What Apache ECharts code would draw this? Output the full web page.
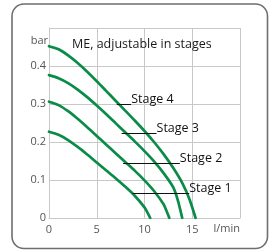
<!DOCTYPE html>
<html>
<head>
<meta charset="utf-8">
<script src="https://cdn.jsdelivr.net/npm/echarts@6/dist/echarts.min.js"></script>
<style>
html,body{margin:0;padding:0;background:#fff;}
#c{width:273px;height:252px;}
</style>
</head>
<body>
<div id="c"></div>
<script>
// ---- data ----
const title = 'ME, adjustable in stages';
const xTicks = [0, 5, 10, 15];
const yTicks = [0, 0.1, 0.2, 0.3, 0.4];
const stageNames = ['Stage 1', 'Stage 2', 'Stage 3', 'Stage 4'];

const stage1Flow = [0, 1, 2, 3, 4, 5, 6, 7, 8, 9, 10, 10.3, 10.6];
const stage1Bar  = [0.227, 0.219, 0.205, 0.187, 0.167, 0.146, 0.125, 0.104, 0.082, 0.058, 0.028, 0.015, 0];

const stage2Flow = [0, 1, 2, 3, 4, 5, 6, 7, 8, 9, 10, 11, 12, 12.3, 12.6];
const stage2Bar  = [0.306, 0.297, 0.281, 0.261, 0.239, 0.216, 0.193, 0.170, 0.147, 0.124, 0.099, 0.071, 0.036, 0.019, 0];

const stage3Flow = [0, 1, 2, 3, 4, 5, 6, 7, 8, 9, 10, 11, 12, 13, 13.5, 13.95];
const stage3Bar  = [0.376, 0.368, 0.355, 0.338, 0.318, 0.296, 0.273, 0.249, 0.225, 0.201, 0.176, 0.149, 0.118, 0.081, 0.046, 0];

const stage4Flow = [0, 1, 2, 3, 4, 5, 6, 7, 8, 9, 10, 11, 12, 13, 14, 14.7, 15.35];
const stage4Bar  = [0.452, 0.444, 0.428, 0.408, 0.385, 0.360, 0.334, 0.308, 0.282, 0.256, 0.229, 0.200, 0.168, 0.132, 0.090, 0.050, 0];

// leader lines for the stage labels (data units)
const leaderY     = [0.066, 0.144, 0.223, 0.300];
const leaderFromX = [8.75, 7.76, 7.6, 7.1];
const leaderToX   = [14.68, 13.7, 11.26, 8.6];

const flows = [stage1Flow, stage2Flow, stage3Flow, stage4Flow];
const bars = [stage1Bar, stage2Bar, stage3Bar, stage4Bar];

const green = '#0a8c48';
const font = 'Open Sans';

const series = stageNames.map((name, i) => ({
  type: 'line',
  name: name,
  data: flows[i].map((x, k) => [x, bars[i][k]]),
  smooth: 0.25,
  showSymbol: false,
  silent: true,
  lineStyle: { color: green, width: 2.7, cap: 'round', join: 'round' },
  z: 3,
  markLine: {
    silent: true,
    symbol: ['none', 'none'],
    lineStyle: { color: '#111', width: 1, type: 'solid' },
    label: {
      show: true,
      position: 'end',
      formatter: name,
      distance: 0,
      color: '#111',
      fontFamily: font,
      fontSize: 12.5,
      verticalAlign: 'bottom',
      padding: [0, 0, -2, 0]
    },
    data: [[{ coord: [leaderFromX[i], leaderY[i]] }, { coord: [leaderToX[i], leaderY[i]] }]],
    animation: false
  }
}));

const chart = echarts.init(document.getElementById('c'), null, { renderer: 'canvas' });
chart.setOption({
  animation: false,
  backgroundColor: '#fff',
  title: {
    text: title,
    left: 67, top: 33,
    textStyle: { fontFamily: font, fontSize: 12.5, fontWeight: 'normal', color: '#1a1a1a' }
  },
  grid: { left: 49, right: 33, top: 28, bottom: 34 },
  xAxis: {
    type: 'value', min: 0, max: 20, interval: 5,
    name: 'l/min', nameLocation: 'end', nameGap: 0,
    nameTextStyle: { align: 'right', verticalAlign: 'top', padding: [5, 0, 0, 0], fontFamily: font, fontSize: 11, color: '#555' },
    axisLine: { show: true, lineStyle: { color: '#c8c8c8', width: 1 } },
    axisTick: { show: false },
    splitLine: { show: true, lineStyle: { color: '#c8c8c8', width: 1 } },
    axisLabel: {
      margin: 6, color: '#555', fontFamily: font, fontSize: 11,
      formatter: v => (xTicks.indexOf(v) >= 0 ? String(v) : '')
    }
  },
  yAxis: {
    type: 'value', min: 0, max: 0.5, interval: 0.1,
    name: 'bar', nameLocation: 'end', nameGap: -13,
    nameTextStyle: { align: 'right', verticalAlign: 'middle', padding: [0, 1, 0, 0], fontFamily: font, fontSize: 11, color: '#555' },
    axisLine: { show: true, lineStyle: { color: '#c8c8c8', width: 1 } },
    axisTick: { show: false },
    splitLine: { show: true, lineStyle: { color: '#c8c8c8', width: 1 } },
    axisLabel: {
      margin: 3, color: '#555', fontFamily: font, fontSize: 11,
      formatter: v => {
        const t = yTicks.find(y => Math.abs(y - v) < 1e-9);
        return t === undefined ? '' : (t === 0 ? '0' : t.toFixed(1));
      }
    }
  },
  graphic: [{
    type: 'rect',
    shape: { x: 12, y: 4, width: 255.5, height: 244.5, r: 12 },
    style: { fill: 'none', stroke: '#6e6e6e', lineWidth: 1.6 },
    silent: true, z: 10
  }],
  series: series
});
</script>
</body>
</html>
